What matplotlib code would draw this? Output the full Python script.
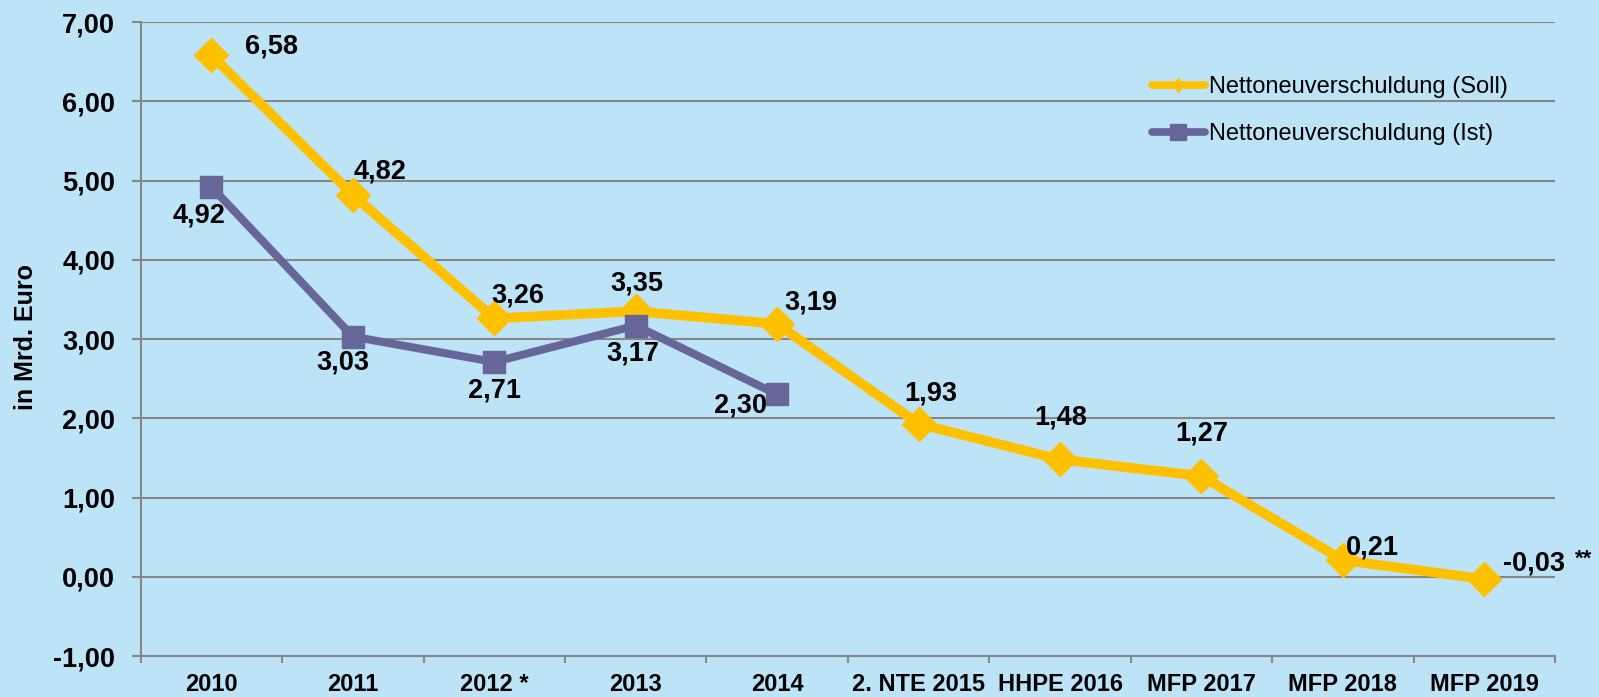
import matplotlib
matplotlib.use("Agg")
import matplotlib.pyplot as plt
from matplotlib.lines import Line2D
from matplotlib.ticker import FixedLocator, FuncFormatter

plt.rcParams['font.family'] = ['Liberation Sans', 'DejaVu Sans']

categories = ["2010", "2011", "2012 *", "2013", "2014", "2. NTE 2015",
              "HHPE 2016", "MFP 2017", "MFP 2018", "MFP 2019"]
soll = [6.58, 4.82, 3.26, 3.35, 3.19, 1.93, 1.48, 1.27, 0.21, -0.03]
ist = [4.92, 3.03, 2.71, 3.17, 2.30]
soll_labels = ["6,58", "4,82", "3,26", "3,35", "3,19", "1,93", "1,48", "1,27", "0,21", "-0,03"]
ist_labels = ["4,92", "3,03", "2,71", "3,17", "2,30"]
yticks = [-1, 0, 1, 2, 3, 4, 5, 6, 7]

soll_off = [(60, 9), (27, 23), (24, 23), (1, 28), (34, 21), (12, 30), (1, 42), (0, 43), (29, 13), (50, 16)]
ist_off = [(-12, -29), (-10, -26), (0, -28), (-3, -28), (-37, -11)]

BG = "#BDE3F7"
YEL = "#FFC000"
PUR = "#666699"
GRID = "#878787"

fig = plt.figure(figsize=(15.99, 6.97), dpi=100, facecolor=BG)
ax = fig.add_axes([0.088, 0.0588, 0.8845, 0.9096], facecolor=BG)

x = list(range(len(categories)))
ax.plot(x, soll, color=YEL, lw=7, marker='D', ms=17, zorder=3, solid_joinstyle='round')
ax.plot(x[:len(ist)], ist, color=PUR, lw=5.8, marker='s', ms=16, zorder=4)

ax.set_xlim(-0.5, len(categories) - 0.5)
ax.set_ylim(-1, 7)
ax.yaxis.set_major_locator(FixedLocator(yticks))
ax.yaxis.set_major_formatter(FuncFormatter(lambda v, p: f"{v:.2f}".replace(".", ",")))
ax.set_xticks(x)
ax.set_xticklabels(categories, fontsize=17, fontweight='bold')
ax.set_xticks([i - 0.5 for i in range(len(categories) + 1)], minor=True)
ax.tick_params(axis='x', which='major', length=0, pad=12)
ax.tick_params(axis='x', which='minor', length=5, color=GRID, width=1.5, direction='out')
ax.tick_params(axis='y', length=6.5, color=GRID, width=1.5, labelsize=19.5, pad=12)
for t in ax.get_yticklabels():
    t.set_fontweight('bold')

ax.grid(axis='y', color=GRID, lw=1.5, zorder=0)
ax.set_axisbelow(True)
for s in ['top', 'right']:
    ax.spines[s].set_visible(False)
ax.spines['left'].set_color(GRID)
ax.spines['left'].set_linewidth(1.5)
ax.spines['bottom'].set_color(GRID)
ax.spines['bottom'].set_linewidth(1.5)

ax.set_ylabel("in Mrd. Euro", fontsize=18, fontweight='bold')
ax.yaxis.set_label_coords(-0.0811, 0.503)
ax.yaxis.label.set_va('center')

for i, (v, lab) in enumerate(zip(soll, soll_labels)):
    ax.annotate(lab, (i, v), xytext=soll_off[i], textcoords='offset pixels',
                ha='center', va='center', fontsize=19.5, fontweight='bold', zorder=5)
ax.annotate("**", (len(soll) - 1, soll[-1]), xytext=(99, 20), textcoords='offset pixels',
            ha='center', va='center', fontsize=16, fontweight='bold', zorder=5)
for i, (v, lab) in enumerate(zip(ist, ist_labels)):
    ax.annotate(lab, (i, v), xytext=ist_off[i], textcoords='offset pixels',
                ha='center', va='center', fontsize=19.5, fontweight='bold', zorder=5)

handles = [Line2D([], [], color=YEL, lw=5.5, marker='d', ms=7.6, solid_capstyle='round'),
           Line2D([], [], color=PUR, lw=5.5, marker='s', ms=11, solid_capstyle='round')]
leg = ax.legend(handles, ["Nettoneuverschuldung (Soll)", "Nettoneuverschuldung (Ist)"],
                loc='upper left', bbox_to_anchor=(0.7, 0.9476), frameon=False,
                fontsize=17, handlelength=2.23, handletextpad=0.18, labelspacing=1.03)

fig.savefig("out.png", dpi=100, facecolor=BG)
